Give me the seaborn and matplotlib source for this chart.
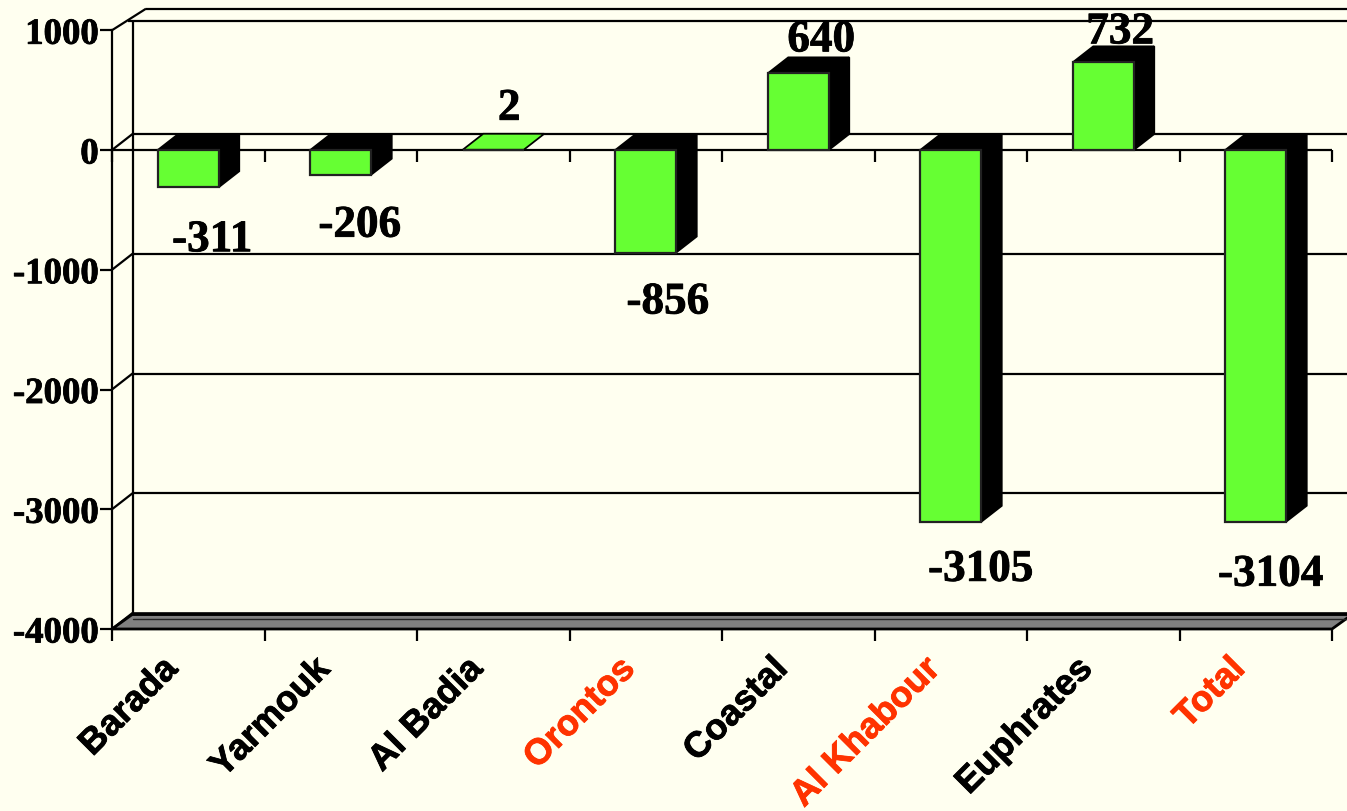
import matplotlib
matplotlib.use("Agg")
import matplotlib.pyplot as plt
import matplotlib.patheffects as pe
from matplotlib.patches import Polygon
from matplotlib.transforms import ScaledTranslation
import pandas as pd
import seaborn as sns

# Basin balances
basins = ["Barada", "Yarmouk", "Al Badia", "Orontos", "Coastal", "Al Khabour", "Euphrates", "Total"]
balance = [-311, -206, 2, -856, 640, -3105, 732, -3104]
deficit_highlight = ["Orontos", "Al Khabour", "Total"]
y_ticks = [1000, 0, -1000, -2000, -3000, -4000]

# Value label offsets from the bar end, in pixels
label_dx = [24, 19, 16, 22, 23, 30, 17, 15]
label_dy = [-53, -51, 41, -50, 33, -48, 30, -53]

# Colours
PAPER = "#FFFFF0"
GREEN = "#66FF33"
RED = "#FF3300"
GREY = "#808080"

# Extrusion of the pseudo-3D box, in data units
DEPTH_X = 20.5 / 152.5
DEPTH_Y = 133.5
RIM_INNER = 1081
RIM_OUTER = 1180
RIM_DX = 34 / 152.5
FLOOR_TOP = -3877
FLOOR_INNER = -3917
X_MIN, X_MAX = -0.5, 7.5
Y_MIN, Y_MAX = -4000, 1000
LW = 1.6

sns.set_theme(style="white")
plt.rcParams["font.family"] = ["Liberation Serif", "DejaVu Serif"]

fig = plt.figure(figsize=(13.47, 8.12), dpi=100, facecolor=PAPER)
ax = fig.add_axes([112 / 1347, 1 - 630 / 812, 1220 / 1347, 598.75 / 812])
ax.patch.set_alpha(0)

df = pd.DataFrame({"basin": basins, "balance": balance})
sns.barplot(data=df, x="basin", y="balance", color=GREEN, saturation=1, width=0.4,
            edgecolor="#222222", linewidth=LW, ax=ax, zorder=5)
ax.set_xlim(X_MIN, X_MAX)
ax.set_ylim(Y_MIN, Y_MAX)
ax.set_xlabel("")
ax.set_ylabel("")

line = dict(color="black", lw=LW, clip_on=False, solid_capstyle="butt")
heavy = [pe.withStroke(linewidth=0.6, foreground="black")]

# Back wall, rim and floor of the box
ax.add_patch(Polygon([(X_MIN, Y_MIN), (X_MIN + DEPTH_X, FLOOR_TOP),
                      (X_MAX + DEPTH_X, FLOOR_TOP), (X_MAX, Y_MIN)],
                     closed=True, facecolor=GREY, edgecolor="black", lw=2.0,
                     clip_on=False, zorder=2))
ax.plot([X_MIN + DEPTH_X] * 2, [FLOOR_TOP, RIM_INNER], zorder=1, **line)
ax.plot([X_MIN + DEPTH_X, X_MAX + DEPTH_X], [FLOOR_TOP] * 2, color="black",
        lw=2.6, clip_on=False, zorder=3)
ax.plot([X_MIN + DEPTH_X, X_MAX + DEPTH_X], [FLOOR_INNER] * 2, color="#222222",
        lw=1.0, clip_on=False, zorder=3)
ax.plot([X_MIN + RIM_DX, X_MAX + DEPTH_X], [RIM_OUTER] * 2, zorder=1, **line)
ax.plot([X_MIN + DEPTH_X * 0.8, X_MAX + DEPTH_X], [RIM_INNER] * 2, zorder=1, **line)
ax.plot([X_MIN, X_MIN + RIM_DX], [Y_MAX, RIM_OUTER], zorder=1, **line)

# Grid on the back wall and its connectors to the front axis
for v in y_ticks[1:]:
    if v != Y_MIN:
        ax.plot([X_MIN + DEPTH_X, X_MAX + DEPTH_X], [v + DEPTH_Y] * 2, zorder=1, **line)
    ax.plot([X_MIN, X_MIN + DEPTH_X], [v, v + DEPTH_Y], zorder=3, **line)

# Front baseline with its tick marks
ax.plot([X_MIN, X_MAX], [0, 0], zorder=2, **line)
boundaries = [X_MIN + i for i in range(len(basins) + 1)]
ax.vlines(boundaries, -100, 0, colors="black", lw=LW, zorder=2, clip_on=False)

# Top and side faces extruded from each bar
for patch, value in zip(ax.patches, balance):
    x0, x1 = patch.get_x(), patch.get_x() + patch.get_width()
    hi, lo = max(0, value), min(0, value)
    flat = abs(value) < 10
    ax.add_patch(Polygon([(x0, hi), (x0 + DEPTH_X, hi + DEPTH_Y),
                          (x1 + DEPTH_X, hi + DEPTH_Y), (x1, hi)],
                         closed=True, facecolor=GREEN if flat else "black",
                         edgecolor="black", lw=LW * 0.8, zorder=4, clip_on=False))
    if not flat:
        ax.add_patch(Polygon([(x1, hi), (x1 + DEPTH_X, hi + DEPTH_Y),
                              (x1 + DEPTH_X, lo + DEPTH_Y), (x1, lo)],
                             closed=True, facecolor="black", edgecolor="black",
                             lw=LW * 0.8, zorder=4, clip_on=False))

# Value labels
for i, value in enumerate(balance):
    ax.annotate(str(value), xy=(i, value), xytext=(label_dx[i] * 0.72, label_dy[i] * 0.72),
                textcoords="offset points", ha="center", va="center",
                fontsize=32.5, fontweight="bold", color="black", zorder=8,
                annotation_clip=False, path_effects=heavy)

# Axes furniture
sns.despine(ax=ax, left=False, top=True, right=True, bottom=True)
ax.spines["left"].set_color("black")
ax.spines["left"].set_linewidth(LW)
ax.set_yticks(y_ticks)
ax.set_yticklabels([str(v) for v in y_ticks], fontsize=26.5, fontweight="bold", color="black")
for lab in ax.get_yticklabels():
    lab.set_path_effects(heavy)
ax.tick_params(axis="y", left=True, length=8.6, width=LW, color="black", pad=1)

ax.set_xticks(boundaries)
ax.set_xticklabels([""] * len(boundaries))
ax.tick_params(axis="x", which="major", bottom=True, length=8.6, width=LW, color="black")
ax.set_xticks(range(len(basins)), basins, minor=True)
ax.tick_params(axis="x", which="minor", bottom=False, length=0, pad=25)
shift = ScaledTranslation(-16 / 100, 0, fig.dpi_scale_trans)
for lab in ax.get_xticklabels(minor=True):
    text_colour = RED if lab.get_text() in deficit_highlight else "black"
    lab.set(rotation=45, ha="right", va="center", rotation_mode="anchor",
            family="Liberation Sans", fontweight="bold", fontsize=26, color=text_colour)
    lab.set_path_effects([pe.withStroke(linewidth=0.6, foreground=text_colour)])
    lab.set_transform(lab.get_transform() + shift)

fig.savefig("out.png", dpi=100, facecolor=PAPER)
